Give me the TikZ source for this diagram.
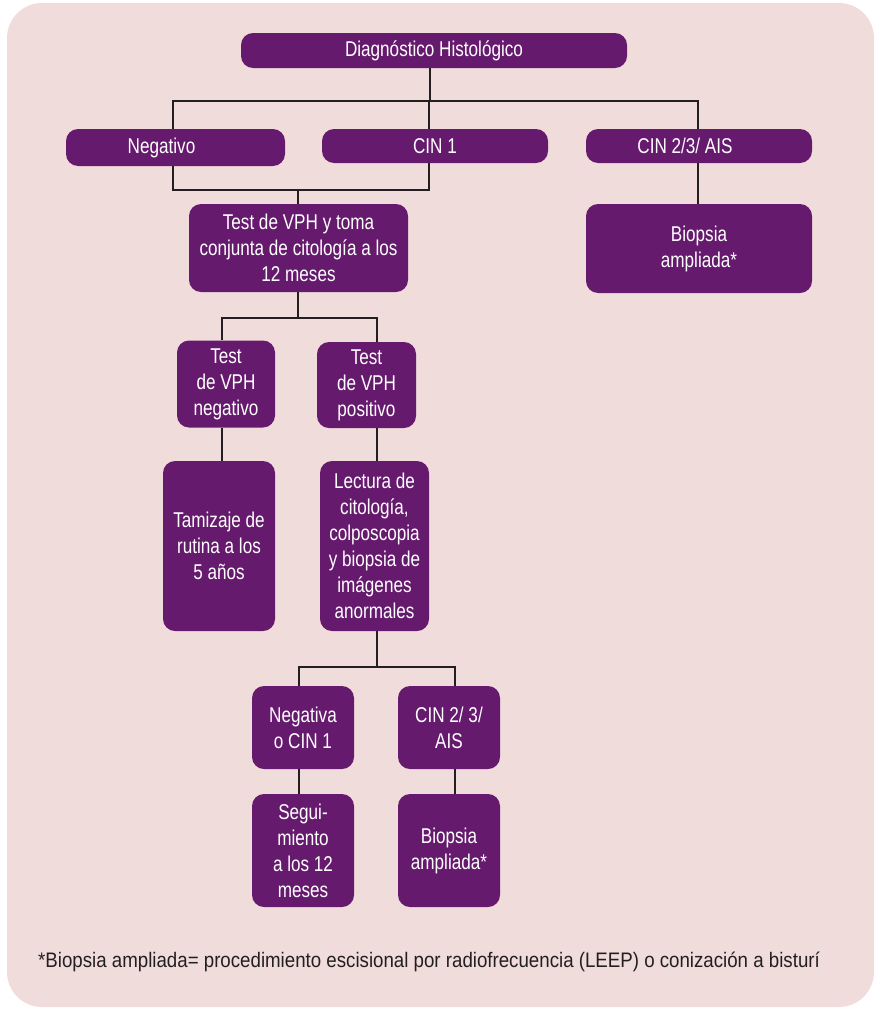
\documentclass[tikz,border=0pt]{standalone}
\usepackage{fontspec}
\setmainfont{Liberation Sans}[FakeStretch=0.8]
\newfontfamily\footfont{Liberation Sans}[FakeStretch=0.89]
\usetikzlibrary{calc}
\definecolor{bgpink}{HTML}{F1DCDC}
\definecolor{purp}{HTML}{661A6E}
\definecolor{lncol}{HTML}{231F20}
\pgfdeclarelayer{bg}
\pgfdeclarelayer{lines}
\pgfsetlayers{bg,lines,main}
\begin{document}
\begin{tikzpicture}[x=1pt,y=-1pt,
  box/.style={fill=purp,rounded corners=12pt,text=white,align=center,inner sep=0pt,
    font=\fontsize{21.4}{26}\selectfont},
  ln/.style={draw=lncol,line width=1.3pt}]
\useasboundingbox (0,0) rectangle (874,1009);
\begin{pgfonlayer}{bg}
\fill[bgpink,rounded corners=35pt] (7,3) rectangle (874,1007);
\end{pgfonlayer}

\node[box,minimum width=386pt,minimum height=35pt] (diag) at (434,50.5) {Diagnóstico Histológico};
\node[box,minimum width=219pt,minimum height=37pt] (neg) at (175.5,147.5) {Negativo\hspace*{28pt}};
\node[box,minimum width=226pt,minimum height=34pt] (cin1) at (435,146) {CIN 1};
\node[box,minimum width=226pt,minimum height=34pt] (cin23) at (699,146) {CIN 2/3/ AIS\hspace*{28pt}};
\node[box,minimum width=219pt,minimum height=88pt] (test) at (298.5,248) {Test de VPH y toma\\conjunta de citología a los\\12 meses};
\node[box,minimum width=226pt,minimum height=89pt] (biop1) at (699,248.5) {Biopsia\\ampliada*};
\node[box,minimum width=98pt,minimum height=87pt] (tvneg) at (226,384) {Test\\de VPH\\negativo};
\node[box,minimum width=99pt,minimum height=86pt] (tvpos) at (366.5,385) {Test\\de VPH\\positivo};
\node[box,minimum width=112pt,minimum height=170pt] (tam) at (219,546) {Tamizaje de\\rutina a los\\5 años};
\node[box,minimum width=109pt,minimum height=170pt] (lect) at (374.5,546) {Lectura de\\citología,\\colposcopia\\y biopsia de\\imágenes\\anormales};
\node[box,minimum width=102pt,minimum height=83pt] (negc) at (303,727.5) {Negativa\\o CIN 1};
\node[box,minimum width=102pt,minimum height=83pt] (cin23b) at (449,727.5) {CIN 2/ 3/\\AIS};
\node[box,minimum width=102pt,minimum height=113pt] (seg) at (303,850.5) {Segui-\\miento\\a los 12\\meses};
\node[box,minimum width=102pt,minimum height=113pt] (biop2) at (449,850.5) {Biopsia\\ampliada*};

\node[anchor=base west,inner sep=0pt,text=lncol,font=\footfont\fontsize{21}{24}\selectfont] (foot) at (38,967)
  {*Biopsia ampliada= procedimiento escisional por radiofrecuencia (LEEP) o conización a bisturí};

\coordinate (t1) at (430,101);
\coordinate (tL) at (173,101);
\coordinate (tR) at (698,101);
\coordinate (bL) at (173,190);
\coordinate (bR) at (429,190);
\coordinate (bM) at (298,190);
\coordinate (j2M) at (298,318);
\coordinate (j2L) at (222,318);
\coordinate (j2R) at (377,318);
\coordinate (j3M) at (377,667);
\coordinate (j3L) at (299,667);
\coordinate (j3R) at (455,667);

\begin{pgfonlayer}{lines}
\draw[ln] (diag.south -| t1) -- (t1);
\draw[ln] (neg.north -| tL) -- (tL) -- (tR) -- (cin23.north -| tR);
\draw[ln] (neg.south -| tL) -- (bL) -- (bR) -- (cin1.south -| bR);
\draw[ln] (tL) -- (neg.north -| tL);
\draw[ln] (cin1.north -| bR) -- (bR |- tR);
\draw[ln] (bM) -- (test.north -| bM);
\draw[ln] (cin23.south -| tR) -- (biop1.north -| tR);
\draw[ln] (test.south -| j2M) -- (j2M);
\draw[ln] (tvneg.north -| j2L) -- (j2L) -- (j2R) -- (tvpos.north -| j2R);
\draw[ln] (tvneg.south -| j2L) -- (tam.north -| j2L);
\draw[ln] (tvpos.south -| j2R) -- (lect.north -| j2R);
\draw[ln] (lect.south -| j3M) -- (j3M);
\draw[ln] (negc.north -| j3L) -- (j3L) -- (j3R) -- (cin23b.north -| j3R);
\draw[ln] (negc.south -| j3L) -- (seg.north -| j3L);
\draw[ln] (cin23b.south -| j3R) -- (biop2.north -| j3R);
\end{pgfonlayer}
\end{tikzpicture}
\end{document}
